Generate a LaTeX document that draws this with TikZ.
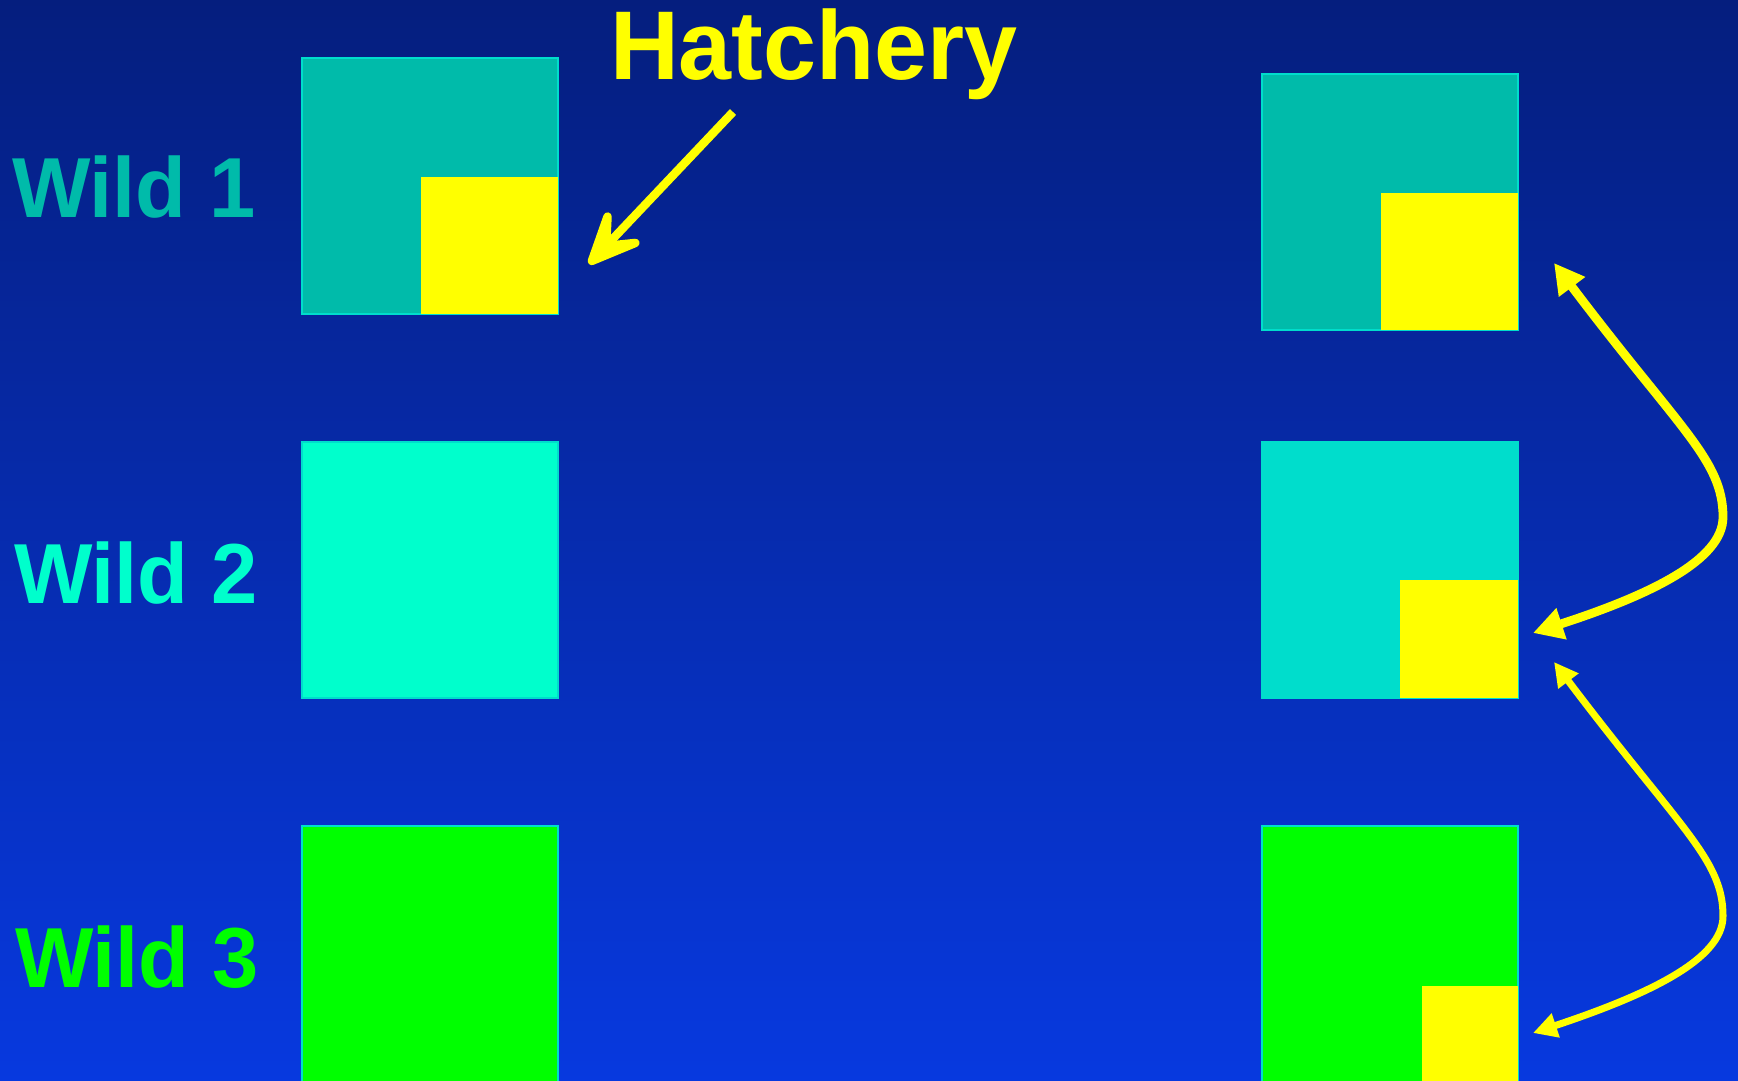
\documentclass[tikz,border=0pt]{standalone}
\usepackage{fontspec}
\setmainfont{Liberation Sans}[FakeStretch=0.975]
\usetikzlibrary{arrows.meta}

\definecolor{bgtop}{RGB}{5,30,126}
\definecolor{bgbot}{RGB}{7,57,223}
\definecolor{tealA}{RGB}{0,187,170}
\definecolor{aquaB}{RGB}{0,255,204}
\definecolor{aquaC}{RGB}{0,221,204}
\definecolor{limeG}{RGB}{0,255,0}
\definecolor{edgeC}{RGB}{0,221,204}
\definecolor{hatch}{RGB}{255,255,0}

\begin{document}
\begin{tikzpicture}[x=0.02cm,y=-0.02cm,
  pool/.style={draw=edgeC, line width=1.1pt, minimum size=5.12cm,
               inner sep=0pt, outer sep=0pt},
  share/.style={fill=hatch, inner sep=0pt, outer sep=0pt, anchor=south east},
  popname/.style={font=\fontsize{48.5pt}{58pt}\selectfont\bfseries,
                  inner sep=0pt, outer sep=0pt, anchor=base west},
  pointer/.style={hatch, line width=4.8pt,
                  -{Stealth[round, length=1.55cm, width=1.38cm, inset=0.8cm]}},
  swapA/.style={hatch, line width=5pt,
                {Triangle[length=0.6cm, width=0.62cm]}-{Triangle[length=0.6cm, width=0.62cm]}},
  swapB/.style={hatch, line width=4pt,
                {Triangle[length=0.48cm, width=0.48cm]}-{Triangle[length=0.48cm, width=0.48cm]}}
]
% background
\useasboundingbox (0,0) rectangle (1738,1081);
\clip (0,0) rectangle (1738,1081);
\shade[top color=bgtop, bottom color=bgbot] (0,0) rectangle (1738,1081);

% labels
\node[popname, text=tealA] (t1) at (12,218) {Wild 1};
\node[popname, text=aquaB] (t2) at (14,603) {Wild 2};
\node[popname, text=limeG] (t3) at (15,987) {Wild 3};
\node[popname, text=hatch, font=\fontsize{55.6pt}{66pt}\selectfont\bfseries] (th) at (610,80) {Hatchery};

% populations, first generation
\node[pool, fill=tealA] (p1a) at (430,186) {};
\node[share, minimum size=2.74cm] (h1a) at (p1a.south east) {};
\node[pool, fill=aquaB] (p2a) at (430,570) {};
\node[pool, fill=limeG] (p3a) at (430,954) {};

% populations, later generation
\node[pool, fill=tealA] (p1b) at (1390,202) {};
\node[share, minimum size=2.74cm] (h1b) at (p1b.south east) {};
\node[pool, fill=aquaC, draw=aquaC] (p2b) at (1390,570) {};
\node[share, minimum size=2.36cm] (h2b) at (p2b.south east) {};
\node[pool, fill=limeG] (p3b) at (1390,954) {};
\node[share, minimum size=1.92cm] (h3b) at (p3b.south east) {};

% hatchery release
\coordinate (hs) at (733,112);
\coordinate (ht) at (589,264);
\draw[pointer] (hs) -- (ht);

% gene flow between neighbouring populations
\coordinate (u1) at (1554,263);
\coordinate (u2) at (1533,633);
\coordinate (l1) at (1554,662);
\coordinate (l2) at (1533,1033);
\draw[swapA] (u1) .. controls (1680,430) and (1723,460) .. (1723,517)
                  .. controls (1723,560) and (1650,595) .. (u2);
\draw[swapB] (l1) .. controls (1680,829) and (1723,859) .. (1723,916)
                  .. controls (1723,959) and (1650,994) .. (l2);
\end{tikzpicture}
\end{document}
